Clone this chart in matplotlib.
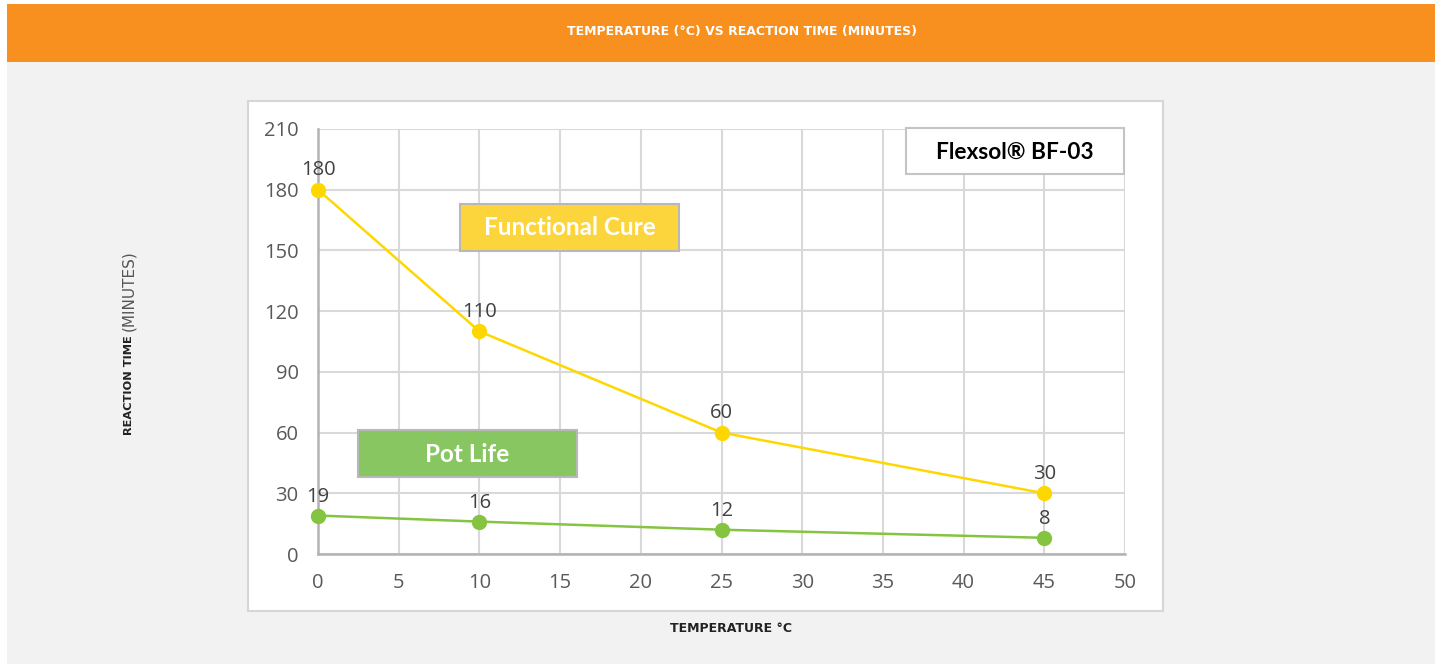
import matplotlib
matplotlib.use("Agg")
import matplotlib.pyplot as plt
from matplotlib.patches import Rectangle

temperature = [0, 10, 25, 45]
functional_cure = [180, 110, 60, 30]
pot_life = [19, 16, 12, 8]
x_ticks = [0, 5, 10, 15, 20, 25, 30, 35, 40, 45, 50]
y_ticks = [0, 30, 60, 90, 120, 150, 180, 210]

W, H = 1442, 664
fig = plt.figure(figsize=(W / 100, H / 100), dpi=100)
fig.patch.set_facecolor("white")

def px_rect(x0, y0, x1, y1, **kw):
    r = Rectangle((x0 / W, 1 - y1 / H), (x1 - x0) / W, (y1 - y0) / H,
                  transform=fig.transFigure, **kw)
    fig.patches.append(r)
    return r

# backgrounds
px_rect(7, 62, 1435, 664, facecolor="#f1f2f1", edgecolor="none", zorder=0)
px_rect(7, 4, 1435, 62, facecolor="#f7901e", edgecolor="none", zorder=0)
px_rect(248, 101, 1163, 611, facecolor="white", edgecolor="#d6d6d6", linewidth=1.5, zorder=0.5)

fig.text(742 / W, 1 - 31 / H, "TEMPERATURE (°C) VS REACTION TIME (MINUTES)",
         color="white", fontsize=9.0, fontweight="bold", family="DejaVu Sans",
         ha="center", va="center")
fig.text(731 / W, 1 - 629 / H, "TEMPERATURE °C", color="#222222", fontsize=9.0,
         fontweight="bold", family="DejaVu Sans", ha="center", va="center")
fig.text(129 / W, 1 - 335 / H, "REACTION TIME", color="#222222", fontsize=8.2,
         fontweight="bold", family="DejaVu Sans", ha="center", va="top", rotation=90)
fig.text(129 / W, 1 - 331 / H, "(MINUTES)", color="#555555", fontsize=11,
         family="DejaVu Sans", ha="center", va="bottom", rotation=90)

left, right, top, bottom = 318, 1125, 129, 554
ax = fig.add_axes([left / W, 1 - bottom / H, (right - left) / W, (bottom - top) / H])
ax.set_zorder(2)
ax.set_facecolor("white")
ax.set_xlim(0, 50)
ax.set_ylim(0, 210)
ax.set_xticks(x_ticks)
ax.set_yticks(y_ticks)
ax.grid(True, color="#d9d9d9", linewidth=1.5, zorder=0)
ax.set_axisbelow(True)
for s in ["top", "right"]:
    ax.spines[s].set_visible(False)
for s in ["left", "bottom"]:
    ax.spines[s].set_color("#b3b3b3")
    ax.spines[s].set_linewidth(1.8)
ax.tick_params(length=0, labelsize=14.5, labelcolor="#595959")
ax.tick_params(axis="y", pad=14)
ax.tick_params(axis="x", pad=14)
for lab in ax.get_xticklabels() + ax.get_yticklabels():
    lab.set_family("Open Sans")

yellow = "#ffd700"
green = "#84c441"
ax.plot(temperature, functional_cure, color=yellow, linewidth=1.8, marker="o",
        markersize=10, zorder=3, clip_on=False)
ax.plot(temperature, pot_life, color=green, linewidth=1.8, marker="o",
        markersize=10, zorder=3, clip_on=False)

for xv, yv in zip(temperature, functional_cure):
    ax.annotate(str(yv), (xv, yv), xytext=(0, 7), textcoords="offset points",
                ha="center", va="bottom", fontsize=14.5, color="#404040", family="Open Sans")
for xv, yv in zip(temperature, pot_life):
    ax.annotate(str(yv), (xv, yv), xytext=(0, 6), textcoords="offset points",
                ha="center", va="bottom", fontsize=14.5, color="#404040", family="Open Sans")

# label boxes
px_rect(460, 204, 679, 251, facecolor="#fcd53d", edgecolor="#b8b8b8", linewidth=1.5, zorder=5)
fig.text(569.5 / W, 1 - 227.5 / H, "Functional Cure", color="white", fontsize=17.5,
         fontweight="bold", family="Lato", ha="center", va="center", zorder=6)
px_rect(358, 430, 577, 477, facecolor="#88c662", edgecolor="#b8b8b8", linewidth=1.5, zorder=5)
fig.text(467.5 / W, 1 - 454 / H, "Pot Life", color="white", fontsize=17.5,
         fontweight="bold", family="Lato", ha="center", va="center", zorder=6)
px_rect(906, 128, 1124, 174, facecolor="white", edgecolor="#c4c4c4", linewidth=1.5, zorder=5)
fig.text(1015 / W, 1 - 152 / H, "Flexsol® BF-03", color="black", fontsize=16.3,
         fontweight="bold", family="Lato", ha="center", va="center", zorder=6)

fig.savefig("out.png", dpi=100, facecolor=fig.get_facecolor())
